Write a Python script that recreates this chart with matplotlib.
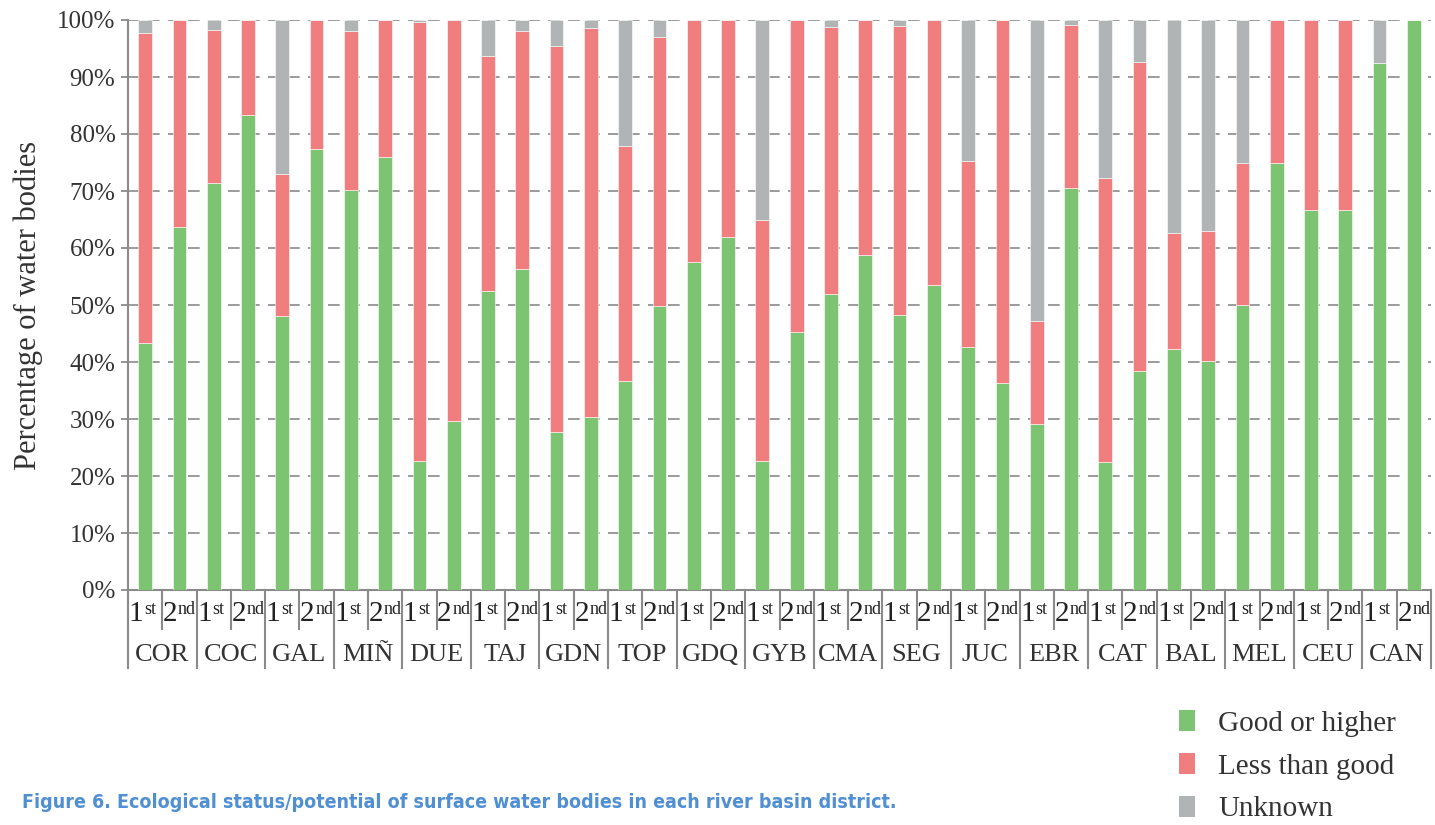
import matplotlib
matplotlib.use("Agg")
import matplotlib.pyplot as plt
import matplotlib.transforms as mtransforms
from matplotlib.patches import Patch
import numpy as np

# river basin districts, two planning cycles each
districts = ['COR', 'COC', 'GAL', 'MIÑ', 'DUE', 'TAJ', 'GDN', 'TOP', 'GDQ', 'GYB',
             'CMA', 'SEG', 'JUC', 'EBR', 'CAT', 'BAL', 'MEL', 'CEU', 'CAN']
cycles = ['1', '2']
cycle_sup = ['st', 'nd']

# percentages, bars ordered COR-1st, COR-2nd, COC-1st, ...
good = [43.4, 63.7, 71.4, 83.3, 48.0, 77.4, 70.1, 75.9, 22.6, 29.6,
        52.4, 56.3, 27.7, 30.3, 36.7, 49.9, 57.5, 61.9, 22.6, 45.3,
        51.9, 58.7, 48.2, 53.5, 42.6, 36.3, 29.2, 70.6, 22.4, 38.4,
        42.3, 40.2, 50.0, 75.0, 66.7, 66.7, 92.4, 100.0]
less = [54.4, 36.3, 26.9, 16.7, 24.9, 22.6, 28.0, 24.1, 77.1, 70.4,
        41.3, 41.8, 67.8, 68.3, 41.2, 47.1, 42.5, 38.1, 42.3, 54.7,
        46.9, 41.3, 50.8, 46.5, 32.7, 63.7, 18.0, 28.5, 49.8, 54.3,
        20.4, 22.8, 25.0, 25.0, 33.3, 33.3, 0.0, 0.0]
unknown = [2.2, 0.0, 1.7, 0.0, 27.1, 0.0, 1.9, 0.0, 0.3, 0.0,
           6.3, 1.9, 4.5, 1.4, 22.1, 3.0, 0.0, 0.0, 35.1, 0.0,
           1.2, 0.0, 1.0, 0.0, 24.7, 0.0, 52.8, 0.9, 27.8, 7.3,
           37.3, 37.0, 25.0, 0.0, 0.0, 0.0, 7.6, 0.0]

series_names = ['Good or higher', 'Less than good', 'Unknown']
colors = ['#7dc472', '#f17e7e', '#b1b4b4']

plt.rcParams['font.family'] = ['Liberation Serif', 'DejaVu Serif']

fig = plt.figure(figsize=(14.35, 8.25), dpi=100)
ax = fig.add_axes([128 / 1435, 1 - 590 / 825, (1431 - 128) / 1435, 570 / 825])

x = np.arange(len(good))
good = np.array(good)
less = np.array(less)
unknown = np.array(unknown)

w = 0.4
ax.bar(x, good, w, color=colors[0], edgecolor='white', linewidth=0.4, zorder=3)
ax.bar(x, less, w, bottom=good, color=colors[1], edgecolor='white', linewidth=0.4, zorder=3)
ax.bar(x, unknown, w, bottom=good + less, color=colors[2], edgecolor='white', linewidth=0.4, zorder=3)

ax.set_xlim(-0.5, len(good) - 0.5)
ax.set_ylim(0, 100)
ax.set_yticks(np.arange(0, 101, 10))
ax.set_yticklabels([f'{v}%' for v in range(0, 101, 10)], fontsize=18, color='#333333')
ax.tick_params(axis='y', length=5, width=1.3, color='#8a8a8a', pad=4)
ax.set_xticks([])

ax.yaxis.grid(True, color='#8a8a8a', linestyle=(0, (7, 5)), linewidth=1.2, zorder=0)
for s in ['top', 'right']:
    ax.spines[s].set_visible(False)
for s in ['left', 'bottom']:
    ax.spines[s].set_color('#8a8a8a')
    ax.spines[s].set_linewidth(1.5)

ax.set_ylabel('Percentage of water bodies', fontsize=22, color='#333333', labelpad=10)

# two-level category axis: separators, cycle labels, district labels
trans = mtransforms.blended_transform_factory(ax.transData, ax.transAxes)
short = 39 / 570
long = 78 / 570
for b in range(len(good) + 1):
    pos = b - 0.5
    depth = long if b % 2 == 0 else short
    ax.plot([pos, pos], [0, -depth], transform=trans, color='#8a8a8a',
            linewidth=1.5, clip_on=False)

for i in range(len(good)):
    c = i % 2
    ax.annotate(cycles[c], (i, -31 / 570), xycoords=trans, xytext=(-1.5, 0),
                textcoords='offset points', ha='right', va='baseline',
                fontsize=21, color='#222222', annotation_clip=False)
    ax.annotate(cycle_sup[c], (i, -31 / 570), xycoords=trans, xytext=(-1.0, 5),
                textcoords='offset points', ha='left', va='baseline',
                fontsize=13, color='#222222', annotation_clip=False)

for g, name in enumerate(districts):
    ax.text(2 * g + 0.5, -71 / 570, name, transform=trans,
            ha='center', va='baseline', fontsize=19, color='#333333')

# legend
handles = [Patch(facecolor=c, edgecolor='none') for c in colors]
fig.legend(handles, series_names, loc='upper left', bbox_to_anchor=(1170 / 1435, 1 - 701 / 825),
           frameon=False, fontsize=21, handlelength=0.55, handleheight=0.75,
           handletextpad=0.8, labelspacing=0.55, labelcolor='#333333',
           borderaxespad=0, borderpad=0.3)

fig.text(22 / 1435, 1 - 803 / 825,
         'Figure 6. Ecological status/potential of surface water bodies in each river basin district.',
         family='DejaVu Sans', fontstretch='condensed', fontweight='bold',
         fontsize=14, color='#4f8fd2', va='center', ha='left')

fig.savefig('out.png', dpi=100)
